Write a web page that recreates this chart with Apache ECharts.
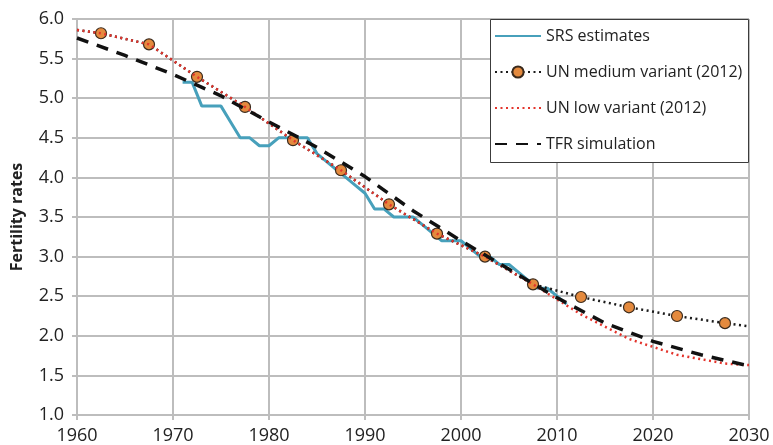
<!DOCTYPE html>
<html>
<head>
<meta charset="utf-8">
<script src="https://cdn.jsdelivr.net/npm/echarts@6/dist/echarts.min.js"></script>
<style>
  html, body { margin: 0; padding: 0; background: #fff; }
  #chart { width: 773px; height: 445px; }
</style>
</head>
<body>
<div id="chart"></div>
<script>
// Total fertility rate, India: SRS estimates, UN 2012 projections and a TFR simulation
const srsYears = [1971, 1972, 1973, 1974, 1975, 1976, 1977, 1978, 1979, 1980,
                  1981, 1982, 1983, 1984, 1985, 1986, 1987, 1988, 1989, 1990,
                  1991, 1992, 1993, 1994, 1995, 1996, 1997, 1998, 1999, 2000,
                  2001, 2002, 2003, 2004, 2005, 2006, 2007, 2008, 2009, 2010, 2011];
const srsValues = [5.2, 5.2, 4.9, 4.9, 4.9, 4.7, 4.5, 4.5, 4.4, 4.4,
                   4.5, 4.5, 4.5, 4.5, 4.3, 4.2, 4.1, 4.0, 3.9, 3.8,
                   3.6, 3.6, 3.5, 3.5, 3.5, 3.4, 3.3, 3.2, 3.2, 3.2,
                   3.1, 3.0, 3.0, 2.9, 2.9, 2.8, 2.7, 2.6, 2.6, 2.5, 2.4];

// UN projections: five-year period midpoints, with the series ends at 1960 and 2030
const unYears = [1960, 1962.5, 1967.5, 1972.5, 1977.5, 1982.5, 1987.5, 1992.5,
                 1997.5, 2002.5, 2007.5, 2012.5, 2017.5, 2022.5, 2027.5, 2030];
const unMedium = [5.86, 5.82, 5.68, 5.27, 4.89, 4.47, 4.09, 3.66,
                  3.29, 3.00, 2.65, 2.49, 2.36, 2.25, 2.16, 2.12];
const unLow = [5.86, 5.82, 5.68, 5.27, 4.89, 4.47, 4.09, 3.66,
               3.29, 3.00, 2.65, 2.27, 1.96, 1.76, 1.65, 1.63];

const tfrYears = [1960, 1965, 1970, 1975, 1980, 1985, 1990, 1995,
                  2000, 2005, 2010, 2015, 2020, 2025, 2030];
const tfrValues = [5.76, 5.54, 5.30, 5.03, 4.70, 4.38, 4.01, 3.58,
                   3.20, 2.84, 2.48, 2.16, 1.93, 1.76, 1.62];

const xTicks = { min: 1960, max: 2030, step: 10 };
const yTicks = { min: 1.0, max: 6.0, step: 0.5 };

const seriesNames = ['SRS estimates', 'UN medium variant (2012)', 'UN low variant (2012)', 'TFR simulation'];

const pairs = (xs, ys) => xs.map((x, i) => [x, ys[i]]);

const FONT = '"Open Sans", sans-serif';
const GRID_COLOR = '#bdbdbd';
const TEXT_COLOR = '#222';

const chart = echarts.init(document.getElementById('chart'), null, { renderer: 'canvas' });

// Legend entries: only the medium variant shows a marker next to its line
const legendData = seriesNames.map((name, i) =>
  i === 1 ? { name } : { name, itemStyle: { opacity: 0 } });

chart.setOption({
  animation: false,
  backgroundColor: '#fff',
  grid: { left: 77, right: 24, top: 19, bottom: 30, containLabel: false },
  xAxis: {
    type: 'value',
    min: xTicks.min, max: xTicks.max, interval: xTicks.step,
    axisLine: { show: true, lineStyle: { color: GRID_COLOR, width: 2 } },
    axisTick: { show: true, length: 5, lineStyle: { color: GRID_COLOR, width: 2 } },
    splitLine: { show: true, lineStyle: { color: GRID_COLOR, width: 2 } },
    axisLabel: {
      color: TEXT_COLOR, fontFamily: FONT, fontSize: 18, margin: 12,
      formatter: v => String(v)
    }
  },
  yAxis: {
    type: 'value',
    min: yTicks.min, max: yTicks.max, interval: yTicks.step,
    name: 'Fertility rates',
    nameLocation: 'middle',
    nameGap: 52,
    nameTextStyle: { color: TEXT_COLOR, fontFamily: FONT, fontSize: 16, fontWeight: 'bold' },
    axisLine: { show: true, lineStyle: { color: GRID_COLOR, width: 2 } },
    axisTick: { show: true, length: 5, lineStyle: { color: GRID_COLOR, width: 2 } },
    splitLine: { show: true, lineStyle: { color: GRID_COLOR, width: 2 } },
    axisLabel: {
      color: TEXT_COLOR, fontFamily: FONT, fontSize: 18, margin: 13,
      formatter: v => v.toFixed(1)
    }
  },
  graphic: [{
    type: 'rect',
    z: 5,
    shape: { x: 490.5, y: 19.5, width: 258, height: 143 },
    style: { fill: '#fff', stroke: '#3c3c3c', lineWidth: 1 }
  }],
  legend: {
    orient: 'vertical',
    left: 494, top: 28,
    z: 10,
    itemWidth: 46, itemHeight: 14, itemGap: 20,
    padding: 0,
    textStyle: { color: TEXT_COLOR, fontFamily: FONT, fontSize: 16 },
    data: legendData
  },
  series: [
    {
      name: seriesNames[0],
      type: 'line',
      data: pairs(srsYears, srsValues),
      symbol: 'none',
      lineStyle: { color: '#47a0bb', width: 3 },
      itemStyle: { color: '#47a0bb' },
      z: 2
    },
    {
      name: seriesNames[1],
      type: 'line',
      data: pairs(unYears, unMedium).map((p, i) =>
        (i === 0 || i === unYears.length - 1) ? { value: p, symbol: 'none' } : { value: p }),
      symbol: 'circle',
      symbolSize: 11,
      showAllSymbol: true,
      lineStyle: { color: '#1a1a1a', width: 2.5, type: [2, 3.5] },
      itemStyle: { color: '#e48a3e', borderColor: '#3a2a1c', borderWidth: 1.2 },
      z: 3
    },
    {
      name: seriesNames[2],
      type: 'line',
      data: pairs(unYears, unLow),
      symbol: 'none',
      lineStyle: { color: '#e3342c', width: 2.5, type: [2, 3.5] },
      itemStyle: { color: '#e3342c' },
      z: 4
    },
    {
      name: seriesNames[3],
      type: 'line',
      data: pairs(tfrYears, tfrValues),
      symbol: 'none',
      lineStyle: { color: '#111', width: 3.5, type: [12, 9] },
      itemStyle: { color: '#111' },
      z: 5
    }
  ]
});
</script>
</body>
</html>
